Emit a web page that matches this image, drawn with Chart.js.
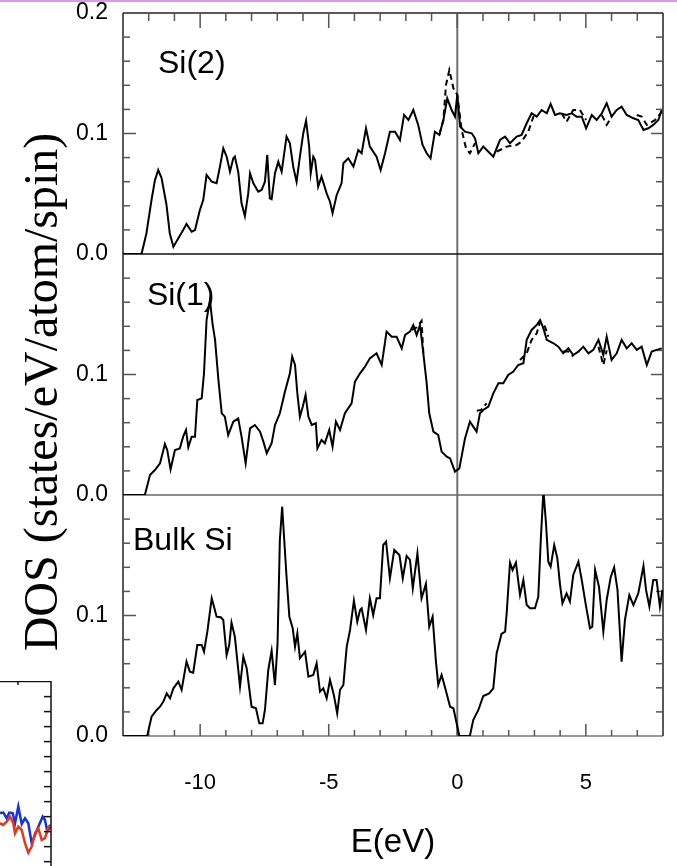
<!DOCTYPE html>
<html>
<head>
<meta charset="utf-8">
<title>DOS</title>
<script src="https://cdn.jsdelivr.net/npm/chart.js@4.4.1/dist/chart.umd.min.js"></script>
<style>
  body { margin: 0; background: #fff; }
  #wrap { position: relative; width: 677px; height: 866px; overflow: hidden; }
  #topline { position: absolute; left: 0; top: 0; width: 677px; height: 2px; background: #d99be4; }
  #dos { position: absolute; left: 0; top: 0; }
  #side { position: absolute; left: 0; top: 681px; }
</style>
</head>
<body>
<div id="wrap">
  <canvas id="dos" width="677" height="866"></canvas>
  <canvas id="side" width="52" height="185"></canvas>
  <div id="topline"></div>
</div>
<script>
// Si(2) layer, solid
const si2E = [-13, -12.28, -12.09, -11.89, -11.76, -11.63, -11.50, -11.31, -11.18, -11.04,
  -10.66, -10.53, -10.33, -10.20, -10.01, -9.88,
  -9.75, -9.55, -9.36, -9.23, -9.10, -8.97, -8.84, -8.71, -8.65, -8.52,
  -8.39, -8.26, -8.13, -8.06, -7.93, -7.74, -7.61, -7.48, -7.39, -7.29,
  -7.22, -7.09, -6.96, -6.83, -6.64, -6.51, -6.38, -6.25, -6.12, -5.99,
  -5.88, -5.76, -5.70, -5.60, -5.53, -5.41, -5.28, -5.08, -4.95, -4.85,
  -4.69, -4.50,
  -4.43, -4.24, -4.04, -3.85, -3.72, -3.55, -3.40, -3.14, -2.98, -2.81,
  -2.62, -2.42, -2.23, -2.07, -1.90, -1.71, -1.52, -1.35, -1.19, -1.04,
  -0.87, -0.70, -0.54, -0.39, -0.22, -0.09, 0.00, 0.11, 0.30, 0.56,
  0.69, 0.82, 1.01, 1.21, 1.40, 1.66, 1.86, 2.05, 2.31, 2.50,
  2.70, 2.89, 3.09, 3.28, 3.48, 3.63, 3.80, 3.99, 4.25, 4.45,
  4.64, 4.84, 5.01, 5.23, 5.42, 5.62, 5.81, 6.00, 6.20, 6.39,
  6.59, 6.85, 7.04, 7.24, 7.43, 7.62, 7.82, 7.95];
const si2Dos = [0, 0, 0.0170, 0.0450, 0.0610, 0.0697, 0.0630, 0.0410, 0.0170, 0.0061,
  0.0199, 0.0249, 0.0185, 0.0199, 0.0365, 0.0448,
  0.0656, 0.0600, 0.0587, 0.0725, 0.0877, 0.0808, 0.0683, 0.0794, 0.0808, 0.0683,
  0.0421, 0.0315, 0.0503, 0.0670, 0.0587, 0.0517, 0.0531, 0.0600, 0.0822, 0.0462,
  0.0454, 0.0670, 0.0766, 0.0683, 0.0974, 0.0919, 0.0725, 0.0600, 0.0808, 0.1002,
  0.1107, 0.0891, 0.0670, 0.0808, 0.0780, 0.0559, 0.0642, 0.0503, 0.0434, 0.0338,
  0.0490, 0.0587,
  0.0753, 0.0794, 0.0725, 0.0863, 0.0836, 0.1043, 0.0891, 0.0808, 0.0697, 0.0836,
  0.1015, 0.1015, 0.0946, 0.1154, 0.1112, 0.1195, 0.1071, 0.0905, 0.0836, 0.0794,
  0.1015, 0.0988, 0.1112, 0.1292, 0.1195, 0.1140, 0.1320, 0.1057, 0.1015, 0.1002,
  0.0960, 0.0836, 0.0891, 0.0849, 0.0808, 0.0946, 0.0974, 0.0919, 0.0974, 0.0988,
  0.1085, 0.1168, 0.1140, 0.1195, 0.1168, 0.1245, 0.1154, 0.1168, 0.1154, 0.1168,
  0.1140, 0.1140, 0.1043, 0.1154, 0.1112, 0.1168, 0.1251, 0.1140, 0.1195, 0.1223,
  0.1154, 0.1126, 0.1112, 0.1029, 0.1043, 0.1071, 0.1112, 0.1195];
// Si(2) layer, dashed (only where it leaves the solid curve)
const si2dE = [-0.70, -0.54, -0.44, -0.31, -0.15, 0.00, 0.17, 0.34, 0.49, 0.69, 1.0,
  1.53, 1.92, 2.31, 2.50, 2.76, 2.96, 3.09, 3.5,
  4.06, 4.25, 4.51, 4.77, 5.01, 5.3,
  5.62, 5.81, 6.00, 6.5,
  6.98, 7.17, 7.37, 7.69, 7.95];
const si2dDos = [0.0988, 0.1112, 0.1402, 0.1527, 0.1375, 0.1320, 0.1030, 0.0877, 0.0836, 0.0920, null,
  0.0849, 0.0891, 0.0905, 0.0933, 0.1015, 0.1140, 0.1140, null,
  0.1168, 0.1098, 0.1195, 0.1195, 0.1112, null,
  0.1154, 0.1071, 0.1140, null,
  0.1154, 0.1140, 0.1071, 0.1112, 0.1180];

// Si(1) layer, solid
const si1E = [-13, -12.15, -11.95, -11.76, -11.56, -11.37, -11.28, -11.15, -10.98, -10.79,
  -10.66, -10.55, -10.46, -10.33, -10.20, -10.11, -9.94, -9.85, -9.75, -9.62,
  -9.52, -9.42, -9.29, -9.16, -9.04, -8.91, -8.71, -8.52, -8.39, -8.23,
  -8.06, -7.87, -7.67, -7.54, -7.41, -7.22, -7.09, -6.90, -6.70, -6.51,
  -6.42, -6.31, -6.22, -6.12, -6.01, -5.90, -5.79, -5.66, -5.50, -5.44,
  -5.28, -5.15, -4.98, -4.85, -4.72, -4.56,
  -4.37, -4.11, -3.98, -3.78, -3.59, -3.40, -3.14, -2.94, -2.75, -2.55,
  -2.36, -2.16, -2.03, -1.84, -1.71, -1.58, -1.45, -1.32, -1.19, -1.09,
  -0.93, -0.74, -0.61, -0.41, -0.28, -0.09, 0.08, 0.30, 0.49, 0.75,
  0.88, 1.01, 1.21, 1.40, 1.60, 1.79, 1.98, 2.18, 2.37, 2.57,
  2.70, 2.89, 3.09, 3.22, 3.35, 3.48, 3.74, 3.93, 4.12, 4.32,
  4.51, 4.71, 4.90, 5.10, 5.29, 5.49, 5.68, 5.81, 6.00, 6.20,
  6.39, 6.59, 6.78, 6.98, 7.17, 7.37, 7.56, 7.75, 7.95];
const si1Dos = [0, 0, 0.0166, 0.0207, 0.0263, 0.0423, 0.0374, 0.0213, 0.0374, 0.0387,
  0.0484, 0.0540, 0.0396, 0.0484, 0.0484, 0.0788, 0.0802, 0.1010, 0.1452, 0.1618,
  0.1425, 0.1287, 0.0955, 0.0678, 0.0650, 0.0498, 0.0609, 0.0636, 0.0484, 0.0263,
  0.0553, 0.0581, 0.0526, 0.0443, 0.0346, 0.0429, 0.0581, 0.0678, 0.0858, 0.1010,
  0.1148, 0.1079, 0.0844, 0.0650, 0.0733, 0.0830, 0.0650, 0.0581, 0.0595, 0.0387,
  0.0457, 0.0429, 0.0540, 0.0401, 0.0609, 0.0540,
  0.0678, 0.0761, 0.0941, 0.1010, 0.1065, 0.1134, 0.1176, 0.1079, 0.1356, 0.1314,
  0.1314, 0.1217, 0.1328, 0.1356, 0.1411, 0.1328, 0.1411, 0.1176, 0.0927, 0.0678,
  0.0526, 0.0498, 0.0360, 0.0318, 0.0304, 0.0194, 0.0221, 0.0470, 0.0609, 0.0526,
  0.0678, 0.0706, 0.0733, 0.0844, 0.0927, 0.0927, 0.0996, 0.1024, 0.1079, 0.1093,
  0.1287, 0.1370, 0.1411, 0.1452, 0.1383, 0.1287, 0.1259, 0.1231, 0.1176, 0.1217,
  0.1162, 0.1190, 0.1231, 0.1176, 0.1204, 0.1287, 0.1162, 0.1314, 0.1121, 0.1176,
  0.1287, 0.1217, 0.1259, 0.1204, 0.1231, 0.1079, 0.1190, 0.1204, 0.1217];
// Si(1) layer, dashed
const si1dE = [-1.77, -1.58, -1.39, -1.32, -1.0,
  0.76, 0.93, 1.14, 1.8,
  2.44, 2.70, 2.89, 3.09, 3.22, 3.41, 3.54, 4.0,
  4.12, 4.32, 4.51, 5.0,
  5.49, 5.68, 5.81];
const si1dDos = [0.1370, 0.1390, 0.1445, 0.1176, null,
  0.0700, 0.0706, 0.0761, null,
  0.1120, 0.1176, 0.1287, 0.1342, 0.1439, 0.1397, 0.1314, null,
  0.1190, 0.1190, 0.1150, null,
  0.1231, 0.1079, 0.1200];

// bulk Si
const bulkE = [-13, -12.06, -11.89, -11.69, -11.56, -11.43, -11.30, -11.17, -11.04, -10.85,
  -10.72, -10.53, -10.40, -10.27, -10.11, -9.94, -9.85, -9.72, -9.55, -9.46,
  -9.36, -9.20, -9.10, -8.97, -8.87, -8.78, -8.65, -8.45, -8.32, -8.19,
  -8.00, -7.83, -7.70, -7.57, -7.48, -7.35, -7.22, -7.09, -6.99, -6.90,
  -6.81, -6.64, -6.53, -6.40, -6.31, -6.22, -6.12, -5.92, -5.79, -5.60,
  -5.47, -5.34, -5.21, -5.08, -4.95, -4.80, -4.67, -4.56, -4.43, -4.30,
  -4.17, -4.02, -3.89, -3.78,
  -3.72, -3.55, -3.40, -3.27, -3.14, -3.01, -2.88, -2.77, -2.62, -2.45,
  -2.25, -2.12, -1.97, -1.84, -1.73, -1.55, -1.39, -1.22, -1.09, -0.96,
  -0.83, -0.74, -0.61, -0.45, -0.28, -0.15, 0.08, 0.49, 0.62, 0.82,
  1.01, 1.24, 1.40, 1.53, 1.72, 1.86, 1.92, 2.05, 2.15, 2.28,
  2.44, 2.57, 2.70, 2.83, 3.02, 3.15, 3.25, 3.35, 3.45, 3.54,
  3.63, 3.77, 3.89, 3.99, 4.09, 4.25, 4.38, 4.51, 4.71, 4.84,
  5.01, 5.16, 5.25, 5.36, 5.51, 5.68, 5.81, 5.97, 6.10, 6.23,
  6.39, 6.52, 6.69, 6.85, 7.04, 7.24, 7.34, 7.47, 7.62, 7.75,
  7.88, 7.98];
const bulkDos = [0, 0, 0.0160, 0.0216, 0.0243, 0.0285, 0.0354, 0.0313, 0.0396, 0.0451,
  0.0382, 0.0617, 0.0534, 0.0525, 0.0755, 0.0755, 0.0700, 0.0866, 0.1143, 0.1073,
  0.0990, 0.0985, 0.0963, 0.0672, 0.0755, 0.0941, 0.0824, 0.0409, 0.0658, 0.0562,
  0.0243, 0.0230, 0.0105, 0.0105, 0.0216, 0.0548, 0.0708, 0.0423, 0.0769, 0.1627,
  0.1903, 0.1322, 0.0990, 0.0894, 0.0741, 0.0852, 0.0645, 0.0700, 0.0492, 0.0506,
  0.0603, 0.0368, 0.0396, 0.0313, 0.0465, 0.0340, 0.0188, 0.0382, 0.0423, 0.0741,
  0.0880, 0.1123, 0.0949, 0.1046,
  0.1060, 0.0880, 0.1143, 0.1004, 0.1143, 0.1143, 0.1585, 0.1613, 0.1309, 0.1544,
  0.1502, 0.1309, 0.1494, 0.1461, 0.1226, 0.1516, 0.1143, 0.1262, 0.0907, 0.0990,
  0.0617, 0.0423, 0.0506, 0.0382, 0.0243, 0.0230, 0, 0, 0.0133, 0.0216,
  0.0332, 0.0354, 0.0396, 0.0686, 0.0847, 0.0866, 0.1018, 0.1439, 0.1378, 0.1439,
  0.1170, 0.1295, 0.1087, 0.1060, 0.1060, 0.1156, 0.1641, 0.2036, 0.1765, 0.1447,
  0.1405, 0.1585, 0.1475, 0.1267, 0.1101, 0.1184, 0.1115, 0.1336, 0.1447, 0.1295,
  0.1073, 0.0894, 0.0907, 0.1378, 0.1239, 0.0866, 0.1129, 0.1322, 0.1400, 0.1212,
  0.0617, 0.0963, 0.1170, 0.1087, 0.1184, 0.1411, 0.1212, 0.1073, 0.1295, 0.1295,
  0.1073, 0.1212];

const panelNames = ["Si(2)", "Si(1)", "Bulk Si"];
const panelAxes = ["ySi2", "ySi1", "yBulk"];
const nameE = [-11.64, -12.07, -12.61];
const nameDos = [0.150, 0.1577, 0.1544];
const xTickValues = [-10, -5, 0, 5];
const yTickValues = [0, 0.1, 0.2];

// piece of the neighbouring figure in the lower left corner
const sideBlueX = [0, 3.3, 6.7, 9.3, 12.7, 15, 18.3, 21.7, 25, 28.3, 31.7, 35, 38.3, 42.7, 45, 47.3, 50];
const sideBlue = [3.25, 3.27, 2.89, 3.27, 3.23, 2.56, 3.67, 2.51, 2.89, 2.56, 1.23, 1.78, 2.33, 3.0, 2.78, 2.0, 2.33];
const sideRedX = [0, 3.3, 6.7, 10, 13.3, 15, 18.3, 21.7, 25, 28.3, 31.7, 35, 38.3, 41.7, 45, 48.3, 50.7];
const sideRed = [2.56, 2.45, 2.67, 3.0, 2.56, 1.89, 2.33, 2.11, 1.23, 0.6, 1.0, 1.89, 2.23, 1.45, 1.56, 2.33, 2.45];

const SANS = "'Liberation Sans', Arial, sans-serif";
const SERIF = "'Liberation Serif', 'Times New Roman', serif";
Chart.defaults.font.family = SANS;
Chart.defaults.color = "#000";

const pts = (xs, ys) => xs.map((x, i) => ({ x, y: ys[i] }));

const curve = (xs, ys, axis, dashed) => ({
  data: pts(xs, ys),
  yAxisID: axis,
  borderColor: "#000",
  borderWidth: 2,
  borderDash: dashed ? [6, 4] : [],
  pointRadius: 0,
  tension: 0,
  spanGaps: false,
});

const seg = (ctx, x1, y1, x2, y2) => {
  ctx.beginPath();
  ctx.moveTo(x1, y1);
  ctx.lineTo(x2, y2);
  ctx.stroke();
};

const framePlugin = {
  id: "frame",
  beforeDatasetsDraw(chart) {
    const { ctx, chartArea: a, scales } = chart;
    const x = scales.x;
    ctx.save();
    ctx.lineCap = "butt";
    // E = 0 line
    ctx.strokeStyle = "#707070";
    ctx.lineWidth = 2;
    const x0 = x.getPixelForValue(0);
    seg(ctx, x0, a.top, x0, a.bottom);
    // panel baselines
    const baseColors = ["#111", "#666", "#777"];
    panelAxes.forEach((id, i) => {
      const y = scales[id].getPixelForValue(0);
      ctx.strokeStyle = baseColors[i];
      ctx.lineWidth = 1.5;
      seg(ctx, a.left, y, a.right, y);
    });
    // outer frame
    ctx.strokeStyle = "#222";
    ctx.lineWidth = 1.5;
    seg(ctx, a.left, a.top, a.right, a.top);
    seg(ctx, a.left, a.top, a.left, a.bottom);
    seg(ctx, a.right, a.top, a.right, a.bottom);
    // inward ticks along E
    ctx.strokeStyle = "#555";
    ctx.lineWidth = 1.5;
    for (let e = Math.ceil(x.min) + 1; e < x.max; e++) {
      const px = x.getPixelForValue(e);
      const major = e % 5 === 0;
      seg(ctx, px, a.bottom, px, a.bottom - (major ? 12 : 6));
      seg(ctx, px, a.top, px, a.top + (major ? 15 : 8));
    }
    // inward ticks on each DOS axis
    panelAxes.forEach((id) => {
      const s = scales[id];
      for (let k = 1; k < 10; k++) {
        const py = s.getPixelForValue(k * 0.02);
        const major = k === 5;
        seg(ctx, a.left, py, a.left + (major ? 13 : 7), py);
        seg(ctx, a.right, py, a.right - (major ? 12 : 7), py);
      }
    });
    ctx.restore();
  },
  afterDatasetsDraw(chart) {
    const { ctx, scales } = chart;
    ctx.save();
    ctx.fillStyle = "#000";
    ctx.font = "32px " + SANS;
    ctx.textAlign = "left";
    ctx.textBaseline = "alphabetic";
    panelNames.forEach((name, i) => {
      const s = scales[panelAxes[i]];
      ctx.fillText(name, scales.x.getPixelForValue(nameE[i]), s.getPixelForValue(nameDos[i]));
    });
    // axis title, rotated
    ctx.translate(57, 392);
    ctx.rotate(-Math.PI / 2);
    ctx.font = "48px " + SERIF;
    ctx.textAlign = "center";
    ctx.fillText("DOS (states/eV/atom/spin)", 0, 0);
    ctx.restore();
  },
};

const yAxis = (showTop) => ({
  type: "linear",
  position: "left",
  stack: "dos",
  stackWeight: 1,
  min: 0,
  max: 0.2,
  grid: { display: false, drawTicks: false },
  border: { display: false },
  afterBuildTicks: (s) => { s.ticks = yTickValues.map((v) => ({ value: v })); },
  afterFit: (s) => {
    s.width = 123;
    s.paddingTop = 0;
    s.paddingBottom = 0;
  },
  ticks: {
    padding: 15,
    font: { size: 23 },
    callback: (v) => (v > 0.15 && !showTop ? "" : v.toFixed(1)),
  },
});

new Chart(document.getElementById("dos"), {
  type: "line",
  data: {
    datasets: [
      curve(bulkE, bulkDos, "yBulk", false),
      curve(si1dE, si1dDos, "ySi1", true),
      curve(si1E, si1Dos, "ySi1", false),
      curve(si2dE, si2dDos, "ySi2", true),
      curve(si2E, si2Dos, "ySi2", false),
    ],
  },
  options: {
    responsive: false,
    animation: false,
    events: [],
    layout: { padding: { left: 0, top: 13, right: 14, bottom: 0 } },
    plugins: { legend: { display: false }, tooltip: { enabled: false } },
    scales: {
      x: {
        type: "linear",
        position: "bottom",
        min: -13,
        max: 8,
        grid: { display: false, drawTicks: false },
        border: { display: false },
        afterBuildTicks: (s) => { s.ticks = xTickValues.map((v) => ({ value: v })); },
        afterFit: (s) => {
          s.height = 130;
          s.paddingLeft = 0;
          s.paddingRight = 0;
        },
        ticks: { padding: 34, font: { size: 22 }, maxRotation: 0 },
        title: { display: true, text: "E(eV)", font: { size: 33 }, padding: { top: 0, bottom: 3 } },
      },
      // stacked bottom-up: the last one sits on top
      yBulk: yAxis(false),
      ySi1: yAxis(false),
      ySi2: yAxis(true),
    },
  },
  plugins: [framePlugin],
});

const sidePlugin = {
  id: "sideFrame",
  afterDatasetsDraw(chart) {
    const { ctx, chartArea: a, scales } = chart;
    const xr = scales.x.getPixelForValue(51);
    ctx.save();
    ctx.strokeStyle = "#111";
    ctx.lineWidth = 1.5;
    seg(ctx, a.left, a.top + 0.5, xr, a.top + 0.5);
    seg(ctx, xr, a.top, xr, a.bottom);
    seg(ctx, scales.x.getPixelForValue(18), a.top, scales.x.getPixelForValue(18), a.top + 4);
    for (let k = 0; k <= 11; k++) {
      const py = scales.y.getPixelForValue(k);
      seg(ctx, xr, py, xr - 7, py);
    }
    ctx.restore();
  },
};

new Chart(document.getElementById("side"), {
  type: "line",
  data: {
    datasets: [
      { data: pts(sideRedX, sideRed), borderColor: "#e8361c", borderWidth: 2.5, pointRadius: 0, tension: 0 },
      { data: pts(sideBlueX, sideBlue), borderColor: "#1532e6", borderWidth: 2.5, pointRadius: 0, tension: 0 },
    ],
  },
  options: {
    responsive: false,
    animation: false,
    events: [],
    layout: { padding: 0 },
    plugins: { legend: { display: false }, tooltip: { enabled: false } },
    scales: {
      x: { type: "linear", display: false, min: 0, max: 52 },
      y: { type: "linear", display: false, min: -0.29, max: 12.04 },
    },
  },
  plugins: [sidePlugin],
});
</script>
</body>
</html>
